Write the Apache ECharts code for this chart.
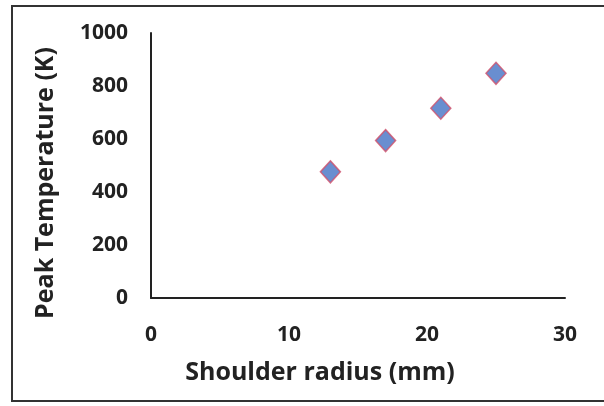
<!DOCTYPE html>
<html><head><meta charset="utf-8">
<script src="https://cdn.jsdelivr.net/npm/echarts@6/dist/echarts.min.js"></script>
<style>html,body{margin:0;padding:0;background:#fff}#c{width:604px;height:406px}</style>
</head><body><div id="c"></div>
<script>
const shoulderRadius = [13, 17, 21, 25];
const peakTemperature = [476, 594, 716, 848];
const xTicks = [0, 10, 20, 30];
const yTicks = [0, 200, 400, 600, 800, 1000];
const xTitle = 'Shoulder radius (mm)';
const yTitle = 'Peak Temperature (K)';

const chart = echarts.init(document.getElementById('c'), null, {renderer: 'canvas'});
const font = '"Open Sans", sans-serif';
chart.setOption({
  animation: false,
  backgroundColor: '#fff',
  graphic: [{
    type: 'rect', shape: {x: 12, y: 6, width: 620, height: 395},
    style: {fill: 'none', stroke: '#333', lineWidth: 2}
  }, {
    type: 'text', x: 320, y: 373,
    style: {text: xTitle, fontFamily: font, fontWeight: 'bold', fontSize: 25, fill: '#222',
      align: 'center', verticalAlign: 'middle'}
  }, {
    type: 'text', x: 46, y: 183, rotation: Math.PI / 2,
    style: {text: yTitle, fontFamily: font, fontWeight: 'bold', fontSize: 25, fill: '#222',
      align: 'center', verticalAlign: 'middle'}
  }],
  grid: {left: 151, right: 39, top: 33, bottom: 108},
  xAxis: {
    type: 'value', min: 0, max: 30, interval: 10,
    axisLine: {show: true, lineStyle: {color: '#222', width: 2}},
    axisTick: {show: false}, splitLine: {show: false},
    axisLabel: {fontFamily: font, fontWeight: 'bold', fontSize: 21, color: '#222', margin: 27,
      formatter: v => xTicks.includes(v) ? String(v) : ''}
  },
  yAxis: {
    type: 'value', min: 0, max: 1000, interval: 200,
    axisLine: {show: true, lineStyle: {color: '#222', width: 2}},
    axisTick: {show: false}, splitLine: {show: false},
    axisLabel: {fontFamily: font, fontWeight: 'bold', fontSize: 21, color: '#222', margin: 23,
      formatter: v => yTicks.includes(v) ? String(v) : ''}
  },
  series: [{
    type: 'scatter',
    data: shoulderRadius.map((x, i) => [x, peakTemperature[i]]),
    symbol: 'diamond', symbolSize: [20, 22],
    itemStyle: {color: '#4472C4', borderColor: '#d0506a', borderWidth: 1.5}
  }]
});
</script></body></html>
